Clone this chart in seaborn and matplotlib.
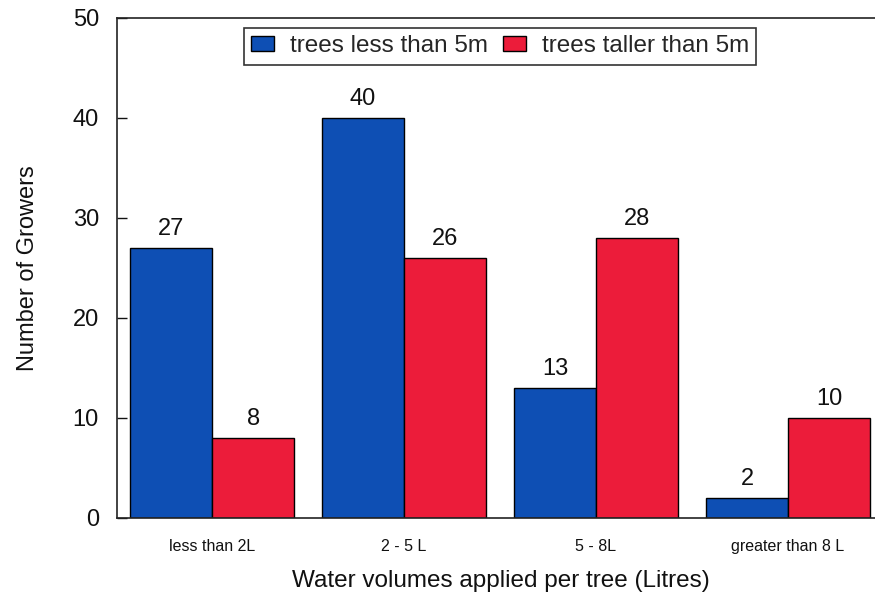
import matplotlib
matplotlib.use("Agg")
import matplotlib.pyplot as plt
import seaborn as sns
import pandas as pd

categories = ["less than 2L", "2 - 5 L", "5 - 8L", "greater than 8 L"]
series_names = ["trees less than 5m", "trees taller than 5m"]
short_trees = [27, 40, 13, 2]
tall_trees = [8, 26, 28, 10]
y_ticks = [0, 10, 20, 30, 40, 50]

sns.set_theme(style="white")
plt.rcParams['font.family'] = ['Liberation Sans', 'DejaVu Sans']

df = pd.DataFrame({
    "category": categories * 2,
    "series": [series_names[0]] * 4 + [series_names[1]] * 4,
    "value": short_trees + tall_trees,
})

fig = plt.figure(figsize=(8.75, 5.93), dpi=100)
W, H = 875, 593
left, right, top, bottom = 117, 885, 18, 518
ax = fig.add_axes([left / W, 1 - bottom / H, (right - left) / W, (bottom - top) / H])

palette = {series_names[0]: "#0E4FB4", series_names[1]: "#EC1C3A"}
sns.barplot(data=df, x="category", y="value", hue="series", order=categories,
            hue_order=series_names, palette=palette, width=0.855, saturation=1,
            edgecolor="black", linewidth=1.0, ax=ax)

for cont in ax.containers:
    ax.bar_label(cont, padding=6, fontsize=17, color="#111111")

ax.set_ylim(0, 50)
ax.set_xlim(-0.495, 3.505)
ax.set_yticks(y_ticks)
ax.tick_params(axis="y", direction="in", length=7, width=1, labelsize=17,
               colors="#111111", pad=13, left=True)
ax.tick_params(axis="x", length=0, labelsize=11.5, pad=15, colors="#111111")
ax.set_xlabel("Water volumes applied per tree (Litres)", fontsize=17.5, labelpad=12, color="#111111")
ax.set_ylabel("Number of Growers", fontsize=17, labelpad=24, color="#111111")

for s in ["left", "bottom", "top"]:
    ax.spines[s].set_visible(True)
    ax.spines[s].set_color("#222222")
    ax.spines[s].set_linewidth(1.2)
ax.spines["right"].set_visible(False)

leg = ax.legend(loc="upper center", bbox_to_anchor=((500 - left) / (right - left), 0.98),
                ncol=2, fontsize=17.5, frameon=True, fancybox=False,
                edgecolor="black", handlelength=0.95, handleheight=0.6,
                columnspacing=0.6, handletextpad=0.65, borderpad=0.3,
                borderaxespad=0)
leg.get_frame().set_linewidth(1.2)

fig.savefig("out.png", dpi=100)
